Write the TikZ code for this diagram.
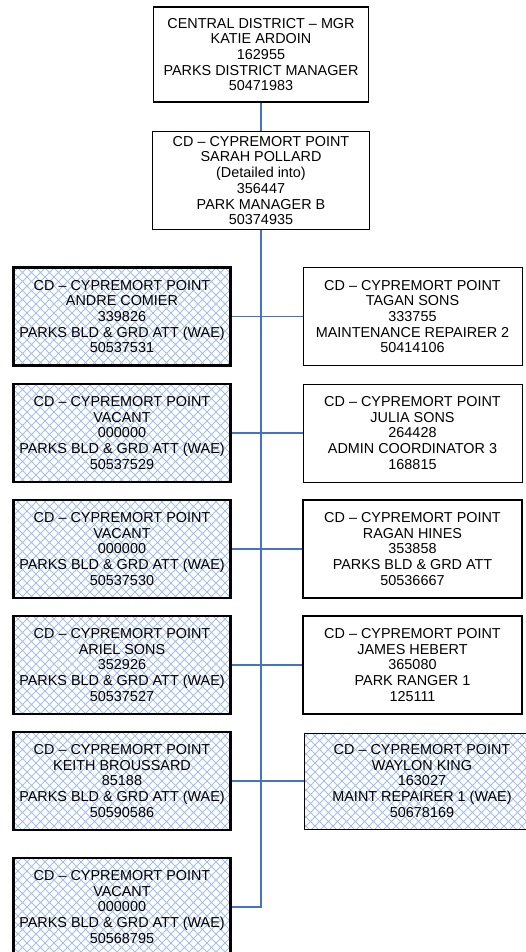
\documentclass[tikz,border=0pt]{standalone}
\usepackage{fontspec}
\setmainfont{Liberation Sans}
\usetikzlibrary{patterns.meta}
\definecolor{orgline}{RGB}{68,114,196}
\definecolor{hatchblue}{RGB}{165,192,232}

% diagonal cross hatch for the WAE posts
\tikzdeclarepattern{
  name=waehatch,
  type=uncolored,
  bottom left={(-.5pt,-.5pt)},
  top right={(9.5pt,9.5pt)},
  tile size={(9pt,9pt)},
  code={
    \draw[line width=.8pt] (0pt,0pt) -- (9pt,9pt) (0pt,9pt) -- (9pt,0pt);
  }
}

\begin{document}
\begin{tikzpicture}[x=1pt,y=-1pt,
    box/.style={draw=black,line width=1.3pt,align=center,inner sep=0pt,
        minimum width=217pt,minimum height=98pt,
        font=\fontsize{14.4}{15.7}\selectfont},
    thickbox/.style={box,line width=2.6pt},
    thinbox/.style={box,line width=1pt},
    wae/.style={pattern=waehatch,pattern color=hatchblue},
    link/.style={draw=orgline,line width=1.5pt}]
    \useasboundingbox (0,0) rectangle (525,952);

    % Columns and rows
    \def\xl{122}
    \def\xr{412.5}
    \def\spine{261}

    % Managers
    \node[box,minimum width=215pt,minimum height=95pt] (dist) at (\spine,54.5)
        {CENTRAL DISTRICT – MGR\\KATIE ARDOIN\\162955\\PARKS DISTRICT MANAGER\\50471983};
    \node[box] (park) at (\spine,180.5)
        {CD – CYPREMORT POINT\\SARAH POLLARD\\(Detailed into)\\356447\\PARK MANAGER B\\50374935};

    % Left column
    \node[thickbox,wae] (l1) at (\xl,316.5)
        {CD – CYPREMORT POINT\\ANDRE COMIER\\339826\\PARKS BLD \& GRD ATT (WAE)\\50537531};
    \node[thickbox,wae] (l2) at (\xl,433)
        {CD – CYPREMORT POINT\\VACANT\\000000\\PARKS BLD \& GRD ATT (WAE)\\50537529};
    \node[thickbox,wae] (l3) at (\xl,549)
        {CD – CYPREMORT POINT\\VACANT\\000000\\PARKS BLD \& GRD ATT (WAE)\\50537530};
    \node[thickbox,wae] (l4) at (\xl,665)
        {CD – CYPREMORT POINT\\ARIEL SONS\\352926\\PARKS BLD \& GRD ATT (WAE)\\50537527};
    \node[thickbox,wae] (l5) at (\xl,781)
        {CD – CYPREMORT POINT\\KEITH BROUSSARD\\85188\\PARKS BLD \& GRD ATT (WAE)\\50590586};
    \node[thickbox,wae] (l6) at (\xl,907)
        {CD – CYPREMORT POINT\\VACANT\\000000\\PARKS BLD \& GRD ATT (WAE)\\50568795};

    % Right column
    \node[thinbox,minimum width=219pt] (r1) at (\xr,316.5)
        {CD – CYPREMORT POINT\\TAGAN SONS\\333755\\MAINTENANCE REPAIRER 2\\50414106};
    \node[thinbox,minimum width=219pt] (r2) at (\xr,433)
        {CD – CYPREMORT POINT\\JULIA SONS\\264428\\ADMIN COORDINATOR 3\\168815};
    \node[thickbox,minimum width=219pt] (r3) at (\xr,549)
        {CD – CYPREMORT POINT\\RAGAN HINES\\353858\\PARKS BLD \& GRD ATT\\50536667};
    \node[thickbox,minimum width=219pt] (r4) at (\xr,665)
        {CD – CYPREMORT POINT\\JAMES HEBERT\\365080\\PARK RANGER 1\\125111};
    \node[thinbox,wae,minimum width=236pt,minimum height=96pt] (r5) at (422,781)
        {CD – CYPREMORT POINT\\WAYLON KING\\163027\\MAINT REPAIRER 1 (WAE)\\50678169};

    % Lines
    \draw[link] (dist) -- (park);
    \draw[link] (park.south) |- (l6.east);
    \foreach \i in {1,...,5}
        \draw[link] (l\i.east) -- (r\i.west);
\end{tikzpicture}
\end{document}
